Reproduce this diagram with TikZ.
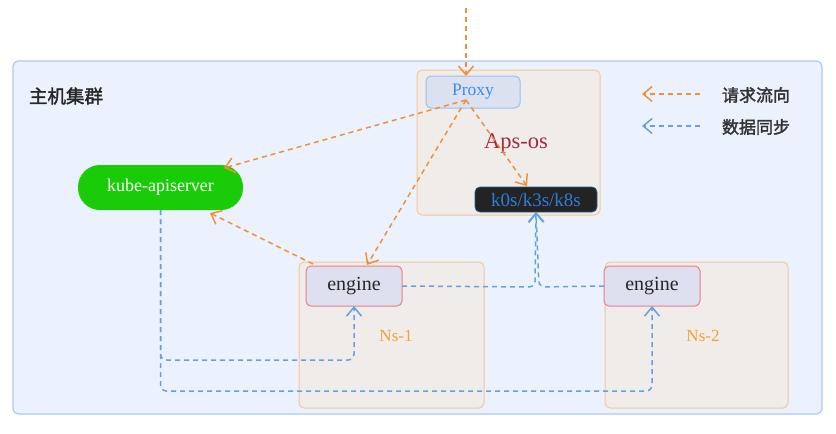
\documentclass[tikz,border=0pt]{standalone}
\usepackage{fontspec}
\setmainfont{Liberation Serif}
\newfontfamily\cjk[AutoFakeBold=2]{Noto Sans CJK SC}
\usetikzlibrary{arrows.meta,calc}
\definecolor{req}{HTML}{F0903A}
\definecolor{sync}{HTML}{62A2E0}
\definecolor{clusterbg}{HTML}{EBF2FD}
\definecolor{clusterline}{HTML}{A9CAF6}
\definecolor{nsbg}{HTML}{F0ECEA}
\definecolor{nsline}{HTML}{F7C796}
\definecolor{proxybg}{HTML}{DCE1F0}
\definecolor{proxyline}{HTML}{98C0F4}
\definecolor{proxytext}{HTML}{3A8BF0}
\definecolor{enginebg}{HTML}{DDE0EE}
\definecolor{engineline}{HTML}{F07C8C}
\definecolor{k8sbg}{HTML}{232323}
\definecolor{k8stext}{HTML}{2E7DDC}
\definecolor{kubebg}{HTML}{19CC07}
\definecolor{apstext}{HTML}{A8283C}
\definecolor{nstext}{HTML}{F5A033}
\begin{document}
\begin{tikzpicture}[x=1pt,y=-1pt,
  every node/.style={inner sep=0pt, outer sep=0pt},
  clusterbox/.style={draw=clusterline, fill=clusterbg, line width=1.2pt, rounded corners=6pt},
  nsbox/.style={draw=nsline, fill=nsbg, line width=1pt, rounded corners=5pt},
  proxybox/.style={draw=proxyline, fill=proxybg, line width=1pt, rounded corners=5pt,
    text=proxytext, font=\fontsize{17.5}{20}\selectfont},
  enginebox/.style={draw=engineline, fill=enginebg, line width=1pt, rounded corners=5pt,
    minimum width=96pt, minimum height=40pt, text=black!85, font=\fontsize{20}{22}\selectfont},
  k8sbox/.style={fill=k8sbg, draw=k8stext!60!k8sbg, line width=0.8pt, rounded corners=5pt,
    text=k8stext, font=\fontsize{19}{20}\selectfont},
  kubebox/.style={fill=kubebg, rounded corners=22pt, text=white, font=\fontsize{18}{20}\selectfont},
  reqline/.style={draw=req, line width=1.5pt, dash pattern=on 5pt off 4pt,
    -{Straight Barb[length=9pt,width=15pt,line width=1.5pt]}},
  syncline/.style={draw=sync, line width=1.5pt, dash pattern=on 5pt off 4pt, rounded corners=6pt,
    -{Straight Barb[length=9pt,width=15pt,line width=1.5pt]}},
  nslabel/.style={text=nstext, font=\fontsize{17}{20}\selectfont},
  legendtext/.style={text=black!80, font=\cjk\bfseries\fontsize{17}{18}\selectfont, anchor=west}
]
\fill[white] (0,0) rectangle (836,434);
\useasboundingbox (0,0) rectangle (836,434);

% host cluster
\node[clusterbox, minimum width=809pt, minimum height=353pt] (cluster) at (417.5,237.5) {};
\node[anchor=west, font=\cjk\bfseries\fontsize{18.5}{20}\selectfont, text=black!85] (title) at (29,96) {主机集群};

% Aps-os namespace
\node[nsbox, minimum width=183pt, minimum height=145pt] (apsos) at (508.5,142.5) {};
\node[proxybox, minimum width=94pt, minimum height=32pt] (proxy) at (473,92) {Proxy};
\node[text=apstext, font=\fontsize{22.5}{24}\selectfont] (apslabel) at (516,143) {Aps-os};
\node[k8sbox, minimum width=122pt, minimum height=25pt] (k8s) at (536,199.5) {k0s/k3s/k8s};

% kube-apiserver
\node[kubebox, minimum width=165pt, minimum height=45pt] (kube) at (160.5,187.5) {kube-apiserver};

% Ns-1
\node[nsbox, minimum width=185pt, minimum height=146pt] (ns1) at (391.5,335) {};
\node[enginebox] (engine1) at (354,286) {engine};
\node[nslabel] (ns1label) at (396,336) {Ns-1};

% Ns-2
\node[nsbox, minimum width=183pt, minimum height=146pt] (ns2) at (696.5,335) {};
\node[enginebox] (engine2) at (652,286) {engine};
\node[nslabel] (ns2label) at (703,336) {Ns-2};

% request flow
\coordinate (entry) at (466,8);
\coordinate (pxo) at (466,100);
\draw[reqline] (entry) -- (entry |- proxy.north);
\draw[reqline] (pxo) -- ($(kube.north east)+(-19,3)$);
\draw[reqline] (pxo) -- ($(engine1.north)+(13,-1)$);
\draw[reqline] (pxo) -- ($(k8s.north)+(-9,-1)$);
\draw[reqline] ($(engine1.north west)+(7,-2)$) -- ($(kube.south east)+(-33,3)$);

% data sync
\coordinate (ks) at (kube.south);
\draw[syncline] (engine1.east) -- (535,287) -- (k8s.south);
\draw[syncline] (engine2.west) -- (539,287) -- (k8s.south);
\draw[syncline] (ks) -- (ks |- 0,360) -- (engine1.south |- 0,360) -- (engine1.south);
\draw[syncline] (ks) -- (ks |- 0,391) -- (engine2.south |- 0,391) -- (engine2.south);

% legend
\coordinate (lr1) at (700,94);
\coordinate (ll1) at (642,94);
\coordinate (lr2) at (700,126);
\coordinate (ll2) at (642,126);
\draw[reqline] (lr1) -- (ll1);
\draw[syncline] (lr2) -- (ll2);
\node[legendtext] (leg1) at (722,95) {请求流向};
\node[legendtext] (leg2) at (722,127) {数据同步};
\end{tikzpicture}
\end{document}
